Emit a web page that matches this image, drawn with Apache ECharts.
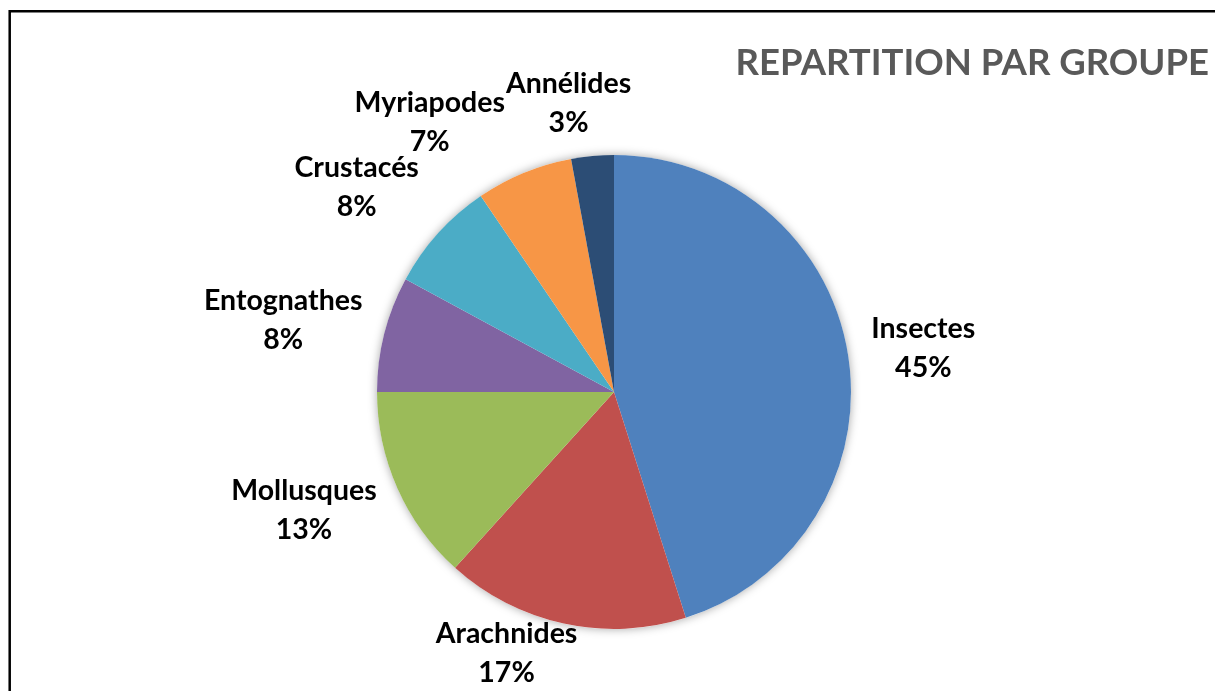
<!DOCTYPE html>
<html><head><meta charset="utf-8">
<script src="https://cdn.jsdelivr.net/npm/echarts@6/dist/echarts.min.js"></script>
<style>html,body{margin:0;padding:0;background:#fff}#c{width:1215px;height:691px}</style>
</head><body><div id="c"></div>
<script>
const categories = ['Insectes', 'Arachnides', 'Mollusques', 'Entognathes', 'Crustacés', 'Myriapodes', 'Annélides'];
const values = [45.1, 16.6, 13.3, 7.9, 7.6, 6.6, 2.9];
const colors = ['#4F81BD', '#C0504D', '#9BBB59', '#8064A2', '#4BACC6', '#F79646', '#2C4D75'];
const chartTitle = 'REPARTITION PAR GROUPE';

const CX = 614, CY = 392, R = 237;
const total = values.reduce((a, b) => a + b, 0);
// label placement tweaks (Excel best-fit)
const labelNudge = [[2, 4], [-44, -31], [-5, -17], [-2, 12], [-19, 11], [-66, 18], [-19, 1]];

const chart = echarts.init(document.getElementById('c'), null, {renderer: 'canvas'});
chart.setOption({
  backgroundColor: '#fff',
  animation: false,
  title: {
    text: chartTitle, right: 1, top: 40,
    textStyle: {fontFamily: 'Lato', fontWeight: 'bold', fontSize: 36.5, color: '#595959'}
  },
  graphic: [{
    type: 'rect', shape: {x: 9.7, y: 11.2, width: 1500, height: 1000},
    style: {fill: 'none', stroke: '#000', lineWidth: 2.5}, silent: true
  }],
  series: [{
    type: 'pie', silent: true, z: 1,
    center: [CX, CY], radius: R,
    label: {show: false}, labelLine: {show: false},
    itemStyle: {color: '#fff', shadowBlur: 10, shadowColor: 'rgba(0,0,0,0.35)'},
    data: [{value: 1, name: ''}]
  }, {
    type: 'pie', z: 2,
    center: [CX, CY], radius: R,
    startAngle: 90, clockwise: true,
    data: categories.map((n, i) => ({name: n, value: values[i], itemStyle: {color: colors[i]}})),
    itemStyle: {borderWidth: 0},
    label: {
      show: true, position: 'outside',
      fontFamily: 'Lato', fontWeight: 'bold', fontSize: 28.5, color: '#000', lineHeight: 39,
      align: 'center',
      formatter: p => p.name + '\n' + Math.round(p.value / total * 100) + '%'
    },
    labelLine: {show: false},
    labelLayout: function (p) {
      const i = p.dataIndex;
      let before = 0;
      for (let k = 0; k < i; k++) before += values[k];
      const mid = (before + values[i] / 2) / total * 2 * Math.PI;
      const dx = Math.sin(mid), dy = -Math.cos(mid);
      const w = p.labelRect.width, hh = 30;
      const d = R + 18 + Math.abs(dx) * w / 2 + Math.abs(dy) * hh;
      return {
        x: CX + dx * d + labelNudge[i][0],
        y: CY + dy * d + labelNudge[i][1],
        align: 'center', verticalAlign: 'middle'
      };
    }
  }]
});
</script></body></html>
